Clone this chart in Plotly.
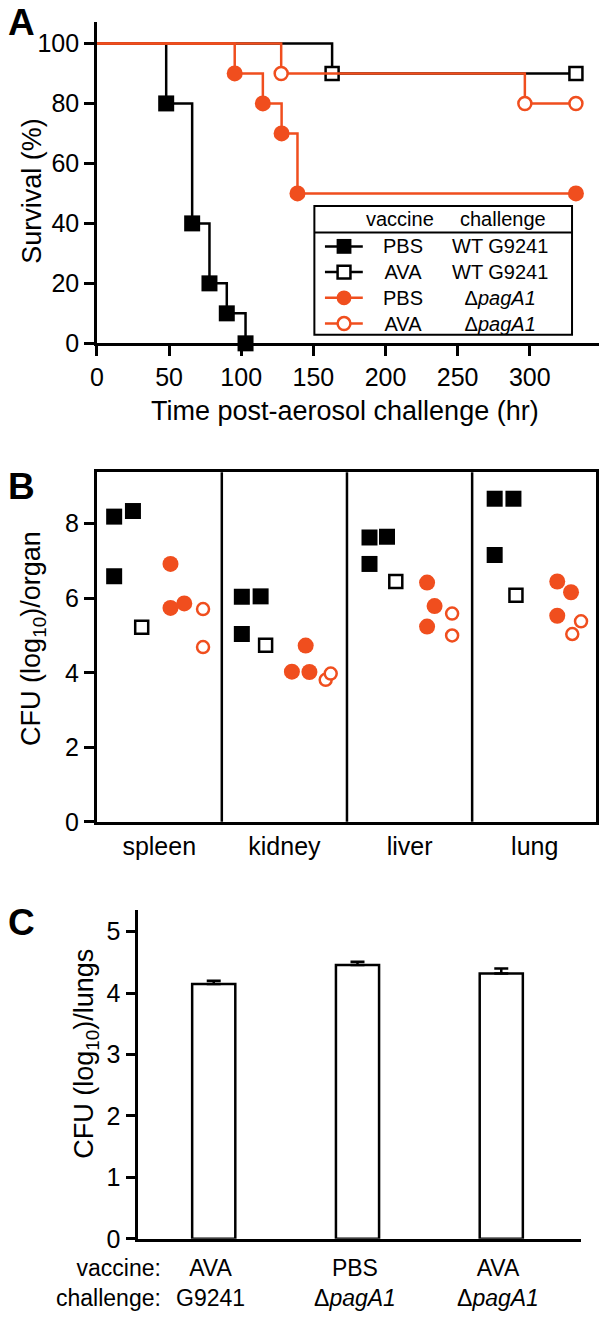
import plotly.graph_objects as go

# ---------------- DATA ----------------
# Panel A: Kaplan-Meier survival (time in hr, survival in %)
pbs_wt_time = [0, 48, 66, 78, 90, 103]
pbs_wt_surv = [100, 80, 40, 20, 10, 0]
ava_wt_time = [0, 163, 332]
ava_wt_surv = [100, 90, 90]
pbs_pag_time = [0, 95.5, 115, 128, 139, 332]
pbs_pag_surv = [100, 90, 80, 70, 50, 50]
ava_pag_time = [0, 127.7, 296.6, 332]
ava_pag_surv = [100, 90, 80, 80]
a_xticks = [0, 50, 100, 150, 200, 250, 300]
a_yticks = [0, 20, 40, 60, 80, 100]

# Panel B: CFU (log10)/organ, per organ, per group
organs = ["spleen", "kidney", "liver", "lung"]
b_pbs_wt = [[8.19, 8.34, 6.59], [6.04, 6.05, 5.04], [7.63, 7.65, 6.92], [8.67, 8.67, 7.16]]
b_ava_wt = [[5.22], [4.74], [6.45], [6.08]]
b_pbs_pag = [[6.92, 5.74, 5.86], [4.73, 4.03, 4.02], [6.42, 5.79, 5.24], [6.45, 6.16, 5.53]]
b_ava_pag = [[5.71, 4.69], [3.81, 3.98], [5.59, 5.00], [5.38, 5.04]]
b_yticks = [0, 2, 4, 6, 8]

# Panel C: CFU (log10)/lungs
c_vaccine = ["AVA", "PBS", "AVA"]
c_challenge = ["G9241", "Δ<i>pagA1</i>", "Δ<i>pagA1</i>"]
c_mean = [4.15, 4.46, 4.32]
c_err = [0.05, 0.05, 0.08]
c_yticks = [0, 1, 2, 3, 4, 5]

# Legend entries for panel A
leg_vaccine = ["PBS", "AVA", "PBS", "AVA"]
leg_challenge = ["WT G9241", "WT G9241", "Δ<i>pagA1</i>", "Δ<i>pagA1</i>"]

# ---------------- STYLE / LAYOUT ----------------
W, H = 600, 1328
BLACK = "#000000"
ORANGE = "#F04E1E"
FONT = "Liberation Sans, Arial, sans-serif"
LW = 2.5


def px(x):
    return x / W


def py(y):
    return 1 - y / H


# horizontal jitter of points inside each organ column (layout only)
jit_pbs_wt = [[0.14, 0.29, 0.14], [0.16, 0.31, 0.16], [0.18, 0.32, 0.18], [0.18, 0.33, 0.18]]
jit_ava_wt = [[0.36], [0.35], [0.39], [0.35]]
jit_pbs_pag = [[0.59, 0.59, 0.70], [0.67, 0.56, 0.70], [0.64, 0.70, 0.64], [0.68, 0.79, 0.68]]
jit_ava_pag = [[0.85, 0.85], [0.83, 0.87], [0.84, 0.84], [0.87, 0.80]]

fig = go.Figure()


def km_traces(t, s, color, symbol, fill, size):
    line = go.Scatter(x=t, y=s, mode="lines", line=dict(color=color, width=LW, shape="hv"),
                      xaxis="x", yaxis="y", cliponaxis=False, showlegend=False, hoverinfo="skip")
    pts = go.Scatter(
        x=t[1:], y=s[1:], mode="markers",
        marker=dict(symbol=symbol, size=size, color=fill, opacity=1,
                    line=dict(color=color, width=LW if fill == "white" else 0)),
        xaxis="x", yaxis="y", cliponaxis=False, showlegend=False)
    return [line, pts]


for tr in (km_traces(pbs_wt_time, pbs_wt_surv, BLACK, "square", BLACK, 16)
           + km_traces(ava_wt_time, ava_wt_surv, BLACK, "square", "white", 13)
           + km_traces(pbs_pag_time, pbs_pag_surv, ORANGE, "circle", ORANGE, 16)
           + km_traces(ava_pag_time, ava_pag_surv, ORANGE, "circle", "white", 13)):
    fig.add_trace(tr)


def b_trace(vals, jit, color, symbol, fill, size):
    xs, ys = [], []
    for i, (vv, jj) in enumerate(zip(vals, jit)):
        for v, j in zip(vv, jj):
            xs.append(i + j)
            ys.append(v)
    return go.Scatter(
        x=xs, y=ys, mode="markers",
        marker=dict(symbol=symbol, size=size, color=fill, opacity=1,
                    line=dict(color=color, width=LW if fill == "white" else 0)),
        xaxis="x2", yaxis="y2", cliponaxis=False, showlegend=False)


fig.add_trace(b_trace(b_pbs_wt, jit_pbs_wt, BLACK, "square", BLACK, 16))
fig.add_trace(b_trace(b_ava_wt, jit_ava_wt, BLACK, "square", "white", 13))
fig.add_trace(b_trace(b_pbs_pag, jit_pbs_pag, ORANGE, "circle", ORANGE, 16))
fig.add_trace(b_trace(b_ava_pag, jit_ava_pag, ORANGE, "circle", "white", 12))

fig.add_trace(go.Bar(
    x=list(range(len(c_mean))), y=c_mean, width=0.3,
    marker=dict(color="white", line=dict(color=BLACK, width=LW)),
    error_y=dict(type="data", array=c_err, arrayminus=[0] * len(c_err), symmetric=False,
                 color=BLACK, thickness=LW, width=7),
    xaxis="x3", yaxis="y3", showlegend=False))

tickfont = dict(family=FONT, size=25, color=BLACK)
common = dict(showgrid=False, zeroline=False, showline=True, linecolor=BLACK, linewidth=LW,
              tickcolor=BLACK, tickwidth=LW, ticklen=10, tickfont=tickfont)

fig.update_layout(
    width=W, height=H, margin=dict(l=0, r=0, t=0, b=0),
    paper_bgcolor="white", plot_bgcolor="white", showlegend=False,
    font=dict(family=FONT, color=BLACK),
    xaxis=dict(domain=[px(91), px(599)], range=[0, 348], tickvals=a_xticks, ticks="outside",
               anchor="y", layer="below traces", **common),
    yaxis=dict(domain=[py(347), py(22.7)], range=[0, 107], tickvals=a_yticks, ticks="outside",
               anchor="x", layer="below traces", **common),
    xaxis2=dict(domain=[px(90.7), px(595.5)], range=[0, 3.986],
                tickvals=[i + 0.5 for i in range(len(organs))], ticktext=organs,
                ticks="", mirror=True, anchor="y2", **common),
    yaxis2=dict(domain=[py(830.6), py(477.3)], range=[0, 9.38], tickvals=b_yticks,
                ticks="outside", mirror=True, anchor="x2", **common),
    xaxis3=dict(domain=[px(132.8), px(580.7)], range=[-0.525, 2.554], showticklabels=False,
                ticks="", anchor="y3", **common),
    yaxis3=dict(domain=[py(1252), py(919.3)], range=[0, 5.36], tickvals=c_yticks,
                ticks="outside", anchor="x3", **common),
)

# panel B column dividers
for k in range(1, len(organs)):
    fig.add_shape(type="line", xref="x2", yref="y2 domain", x0=k, x1=k, y0=0, y1=1,
                  line=dict(color=BLACK, width=LW))

ann = []
# panel letters
for letter, yc, anchor in [("A", 0, "top"), ("B", 492, "middle"), ("C", 932, "middle")]:
    ann.append(dict(text=f"<b>{letter}</b>", x=px(-1), y=py(yc), xref="paper", yref="paper",
                    xanchor="left", yanchor=anchor, showarrow=False,
                    font=dict(family=FONT, size=37, color=BLACK)))
# axis titles
ttl = dict(family=FONT, size=27, color=BLACK)
ann.append(dict(text="Time post-aerosol challenge (hr)", x=px(342), y=py(415), xref="paper",
                yref="paper", xanchor="center", yanchor="middle", showarrow=False, font=ttl))
ann.append(dict(text="Survival (%)", x=px(25), y=py(193), xref="paper", yref="paper",
                textangle=-90, xanchor="center", yanchor="middle", showarrow=False, font=ttl))
ann.append(dict(text="CFU (log<sub>10</sub>)/organ", x=px(27), y=py(645), xref="paper",
                yref="paper", textangle=-90, xanchor="center", yanchor="middle",
                showarrow=False, font=ttl))
ann.append(dict(text="CFU (log<sub>10</sub>)/lungs", x=px(80), y=py(1065), xref="paper",
                yref="paper", textangle=-90, xanchor="center", yanchor="middle",
                showarrow=False, font=ttl))
# panel C category labels (two-line blocks)
cfont = dict(family=FONT, size=23, color=BLACK)
CY = 1296.5
ann.append(dict(text="vaccine:<br>challenge:", x=px(158), y=py(CY), xref="paper", yref="paper",
                xanchor="right", yanchor="middle", align="right", showarrow=False, font=cfont))
for i, (v, c) in enumerate(zip(c_vaccine, c_challenge)):
    ann.append(dict(text=f"{v}<br>{c}", x=i - 0.02, y=py(CY), xref="x3", yref="paper",
                    xanchor="center", yanchor="middle", align="center", showarrow=False,
                    font=cfont))

# ---- manual legend for panel A ----
L0, L1, T0, T1, DIV = 311, 571.7, 208.3, 338.3, 235
fig.add_shape(type="rect", xref="paper", yref="paper", x0=px(L0), x1=px(L1), y0=py(T1), y1=py(T0),
              line=dict(color=BLACK, width=2), fillcolor="white", layer="above")
fig.add_shape(type="line", xref="paper", yref="paper", x0=px(L0), x1=px(L1), y0=py(DIV), y1=py(DIV),
              line=dict(color=BLACK, width=2), layer="above")
LFS = 20
lfont = dict(family=FONT, size=LFS, color=BLACK)
ann.append(dict(text="vaccine", x=px(398), y=py(221.5), xref="paper", yref="paper",
                xanchor="center", yanchor="middle", showarrow=False, font=lfont))
ann.append(dict(text="challenge", x=px(502), y=py(221.5), xref="paper", yref="paper",
                xanchor="center", yanchor="middle", showarrow=False, font=lfont))
row_c = 288
row_h = 1.3 * LFS
n = len(leg_vaccine)
ann.append(dict(text="<br>".join(leg_vaccine), x=px(401), y=py(row_c), xref="paper", yref="paper",
                xanchor="center", yanchor="middle", showarrow=False, font=lfont))
ann.append(dict(text="<br>".join(leg_challenge), x=px(499), y=py(row_c), xref="paper",
                yref="paper", xanchor="center", yanchor="middle", showarrow=False, font=lfont))
leg_style = [(BLACK, "rect", True), (BLACK, "rect", False),
             (ORANGE, "circle", True), (ORANGE, "circle", False)]
for k, (col, shp, filled) in enumerate(leg_style):
    yy = row_c + (k - (n - 1) / 2) * row_h
    fig.add_shape(type="line", xref="paper", yref="paper", x0=px(321.7), x1=px(360),
                  y0=py(yy), y1=py(yy), line=dict(color=col, width=LW), layer="above")
    half = 7.5 if filled else 6.5
    fig.add_shape(type=shp, xref="paper", yref="paper", x0=px(341 - half), x1=px(341 + half),
                  y0=py(yy + half), y1=py(yy - half),
                  line=dict(color=col, width=0 if filled else LW),
                  fillcolor=col if filled else "white", layer="above")

fig.update_layout(annotations=ann)
fig.write_html("out.html", config={"displayModeBar": False},
               post_script="document.body.style.margin='0';")
